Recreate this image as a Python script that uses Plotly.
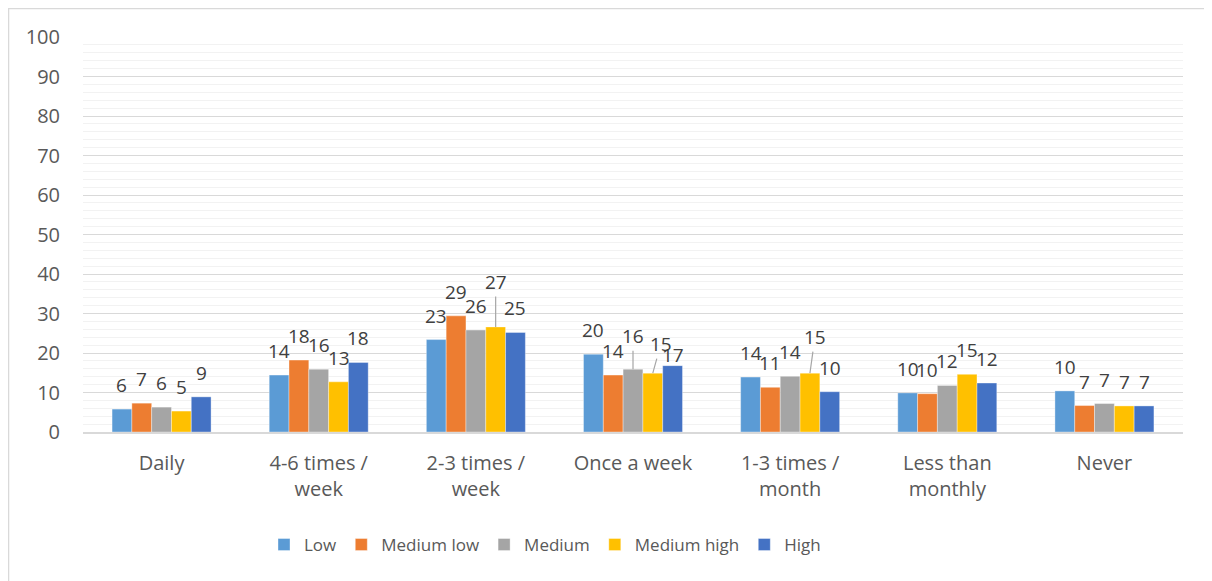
import plotly.graph_objs as go

categories = ["Daily", "4-6 times /<br>week", "2-3 times /<br>week", "Once a week",
              "1-3 times /<br>month", "Less than<br>monthly", "Never"]

low = [5.8, 14.4, 23.4, 19.7, 13.9, 9.9, 10.4]
medium_low = [7.3, 18.2, 29.4, 14.4, 11.3, 9.7, 6.7]
medium = [6.3, 15.9, 25.8, 15.9, 14.1, 11.8, 7.2]
medium_high = [5.3, 12.7, 26.6, 14.9, 14.9, 14.6, 6.6]
high = [8.9, 17.6, 25.2, 16.8, 10.2, 12.4, 6.6]

series_names = ["Low", "Medium low", "Medium", "Medium high", "High"]
series_values = [low, medium_low, medium, medium_high, high]
colors = ['#5B9BD5', '#ED7D31', '#A5A5A5', '#FFC000', '#4472C4']

y_ticks = [0, 10, 20, 30, 40, 50, 60, 70, 80, 90, 100]

# label placement tweaks (series index, category index) -> (dx px, dy px, leader line)
label_tweaks = {
    (3, 2): (0, 45, True),
    (2, 3): (0, 33, True),
    (3, 3): (8, 29, True),
    (4, 3): (0, 11, False),
    (3, 4): (5, 36, True),
}

text_color = '#595959'
bargap = 0.37

fig = go.Figure()

for name, vals, col in zip(series_names, series_values, colors):
    fig.add_trace(go.Bar(
        x = categories,
        y = vals,
        name = name,
        marker_color = col,
        marker_line = dict(color = 'rgba(255,255,255,0.6)', width = 0.6),
    ))

n = len(series_names)
w = (1 - bargap) / n
for si, vals in enumerate(series_values):
    for ci, v in enumerate(vals):
        xpos = ci + (si - (n - 1) / 2) * w
        dx, dy, leader = label_tweaks.get((si, ci), (0, 24, False))
        if leader:
            fig.add_annotation(
                x = xpos, y = v, xref = 'x', yref = 'y',
                text = str(int(round(v))),
                showarrow = True, arrowhead = 0, arrowwidth = 1.2,
                arrowcolor = '#A6A6A6', ax = dx, ay = -dy, standoff = 0,
                font = dict(size = 19, color = '#404040'),
            )
        else:
            fig.add_annotation(
                x = xpos, y = v, xref = 'x', yref = 'y',
                text = str(int(round(v))),
                showarrow = False, xshift = dx, yshift = dy,
                font = dict(size = 19, color = '#404040'),
            )

# chart border (top / left visible)
fig.add_shape(type = 'rect', xref = 'paper', yref = 'paper',
              x0 = -0.0677, x1 = 1.2, y0 = -0.5, y1 = 1.0722,
              line = dict(color = '#D9D9D9', width = 1.5), layer = 'below')

fig.update_layout(
    width = 1212, height = 581,
    margin = dict(l = 75, r = 37, t = 29, b = 157),
    barmode = 'group',
    bargap = bargap,
    bargroupgap = 0,
    plot_bgcolor = 'white',
    paper_bgcolor = 'white',
    font = dict(family = 'Open Sans, sans-serif', color = text_color, size = 20),
    legend = dict(orientation = 'h', x = 0.42, xanchor = 'center', y = -0.286, yanchor = 'middle',
                  font = dict(size = 17, color = text_color), traceorder = 'normal',
                  itemwidth = 30),
    showlegend = True,
)

fig.update_yaxes(
    range = [0, 100],
    tickvals = y_ticks,
    showgrid = True, gridcolor = '#D9D9D9', gridwidth = 1,
    minor = dict(dtick = 2, showgrid = True, gridcolor = '#F2F2F2', gridwidth = 1),
    zeroline = False,
    ticks = '', ticklabelstandoff = 22,
    tickfont = dict(size = 20, color = text_color),
)

fig.update_xaxes(
    showline = True, linecolor = '#D9D9D9', linewidth = 2,
    ticks = '', ticklabelstandoff = 12,
    tickfont = dict(size = 20, color = text_color),
)

fig.write_html("out.html")
